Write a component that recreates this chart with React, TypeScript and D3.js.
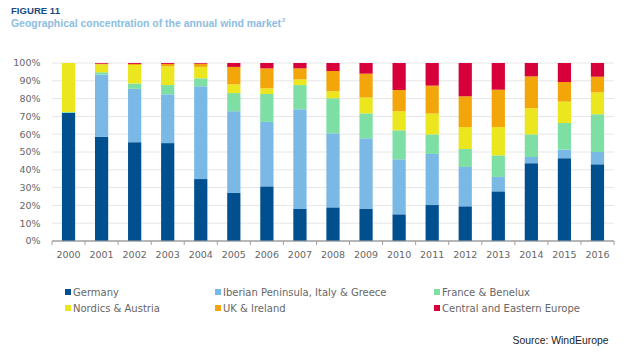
import React from "react";
import * as d3 from "d3";

const years = ["2000","2001","2002","2003","2004","2005","2006","2007","2008","2009","2010","2011","2012","2013","2014","2015","2016"];
const seriesNames = ["Germany","Iberian Peninsula, Italy & Greece","France & Benelux","Nordics & Austria","UK & Ireland","Central and Eastern Europe"];
const seriesColors = ["#00508f","#7ab8e6","#7ddfa3","#ece61e","#f2a60a","#d7003a"];

const germany = [72,58.5,55.5,55,34.8,27,30.7,18,18.9,18,15,20.2,19.5,27.9,43.7,46.5,43.1];
const iberian = [0,35,30,27.4,52.1,45.9,36.2,56,41.6,39.7,30.9,28.7,22.1,8.1,3.5,4.8,6.9];
const france = [0.5,1.3,3,5.2,4.5,10.2,15.7,13.6,19.7,14,16.3,11,10.1,12.1,12.7,15,21.2];
const nordics = [27.5,4.4,10.4,10.5,6.4,4.9,3.2,3.2,3.9,8.9,10.7,11.7,12.3,15.9,14.7,12,12.3];
const uk = [0,0.4,0.6,1.4,1.8,9.8,11.2,6.2,11.4,13.4,11.9,15.7,17.3,21,17.9,11,8.8];
const cee = [0,0.4,0.5,0.5,0.4,2.2,3.0,3.0,4.5,6.0,15.2,12.7,18.7,15,7.5,10.7,7.7];

const yTicks = [0,10,20,30,40,50,60,70,80,90,100];

export default function App() {
  const W = 628, H = 353;
  const x = d3.scaleBand<string>().domain(years).range([52, 614]).paddingInner(0.6).paddingOuter(0.3);
  const y = d3.scaleLinear().domain([0, 100]).range([241, 63]);
  const seriesData = [germany, iberian, france, nordics, uk, cee];
  const rows = years.map((yr, i) => {
    const r: any = { year: yr };
    seriesNames.forEach((s, k) => { r[s] = seriesData[k][i]; });
    return r;
  });
  const stacked = d3.stack<any>().keys(seriesNames)(rows);
  const step = x.step();
  const boundaries = d3.range(years.length + 1).map(i => 52 + i * step);
  const axisFont = "'DejaVu Sans', sans-serif";
  const legendPos = [
    { x: 65, y: 289 }, { x: 215, y: 289 }, { x: 434, y: 289 },
    { x: 65, y: 305 }, { x: 215, y: 305 }, { x: 434, y: 305 },
  ];
  return (
    <svg width={W} height={H} style={{ position: "absolute", left: 0, top: 0, background: "#fff" }}>
      <rect width={W} height={H} fill="#fff" />
      <text x={11} y={13.5} fontFamily="'Liberation Sans', Arial, sans-serif" fontWeight="bold" fontSize={9.5} fill="#1b4a7c" textLength={49} lengthAdjust="spacingAndGlyphs">FIGURE 11</text>
      <text x={11} y={27} fontFamily="'Liberation Sans', Arial, sans-serif" fontWeight="bold" fontSize={10.5} fill="#8dbde3" textLength={270} lengthAdjust="spacingAndGlyphs">Geographical concentration of the annual wind market</text>
      <text x={282} y={22} fontFamily="'Liberation Sans', Arial, sans-serif" fontWeight="bold" fontSize={6} fill="#8dbde3">2</text>
      {yTicks.map(t => (
        <g key={t}>
          <line x1={52} x2={614} y1={y(t)} y2={y(t)} stroke={t === 0 ? "#a0a0a0" : "#e6e6e6"} strokeWidth={1} />
          <text x={40.5} y={y(t)} dy="0.35em" textAnchor="end" fontFamily={axisFont} fontSize={9.5} fill="#666">{t}%</text>
        </g>
      ))}
      {stacked.map((layer, k) => (
        <g key={layer.key} fill={seriesColors[k]}>
          {layer.map((d, i) => (
            <rect key={i} x={x(years[i])} width={x.bandwidth()} y={y(d[1])} height={Math.max(0, y(d[0]) - y(d[1]))} />
          ))}
        </g>
      ))}
      <line x1={52} x2={614} y1={y(0)} y2={y(0)} stroke="#a0a0a0" />
      {boundaries.map((b, i) => (
        <line key={i} x1={b} x2={b} y1={y(0)} y2={y(0) + 4} stroke="#a0a0a0" />
      ))}
      {years.map(yr => (
        <text key={yr} x={(x(yr) as number) + x.bandwidth() / 2} y={257.5} textAnchor="middle" fontFamily={axisFont} fontSize={9.5} fill="#666">{yr}</text>
      ))}
      {seriesNames.map((s, k) => (
        <g key={s}>
          <rect x={legendPos[k].x} y={legendPos[k].y} width={6} height={6} fill={seriesColors[k]} />
          <text x={legendPos[k].x + 8} y={legendPos[k].y + 3} dy="0.35em" fontFamily={axisFont} fontSize={10} fill="#666">{s}</text>
        </g>
      ))}
      <text x={608.5} y={343.5} textAnchor="end" fontFamily="'Liberation Sans', Arial, sans-serif" fontSize={10.5} fill="#222" textLength={96} lengthAdjust="spacingAndGlyphs">Source: WindEurope</text>
    </svg>
  );
}
